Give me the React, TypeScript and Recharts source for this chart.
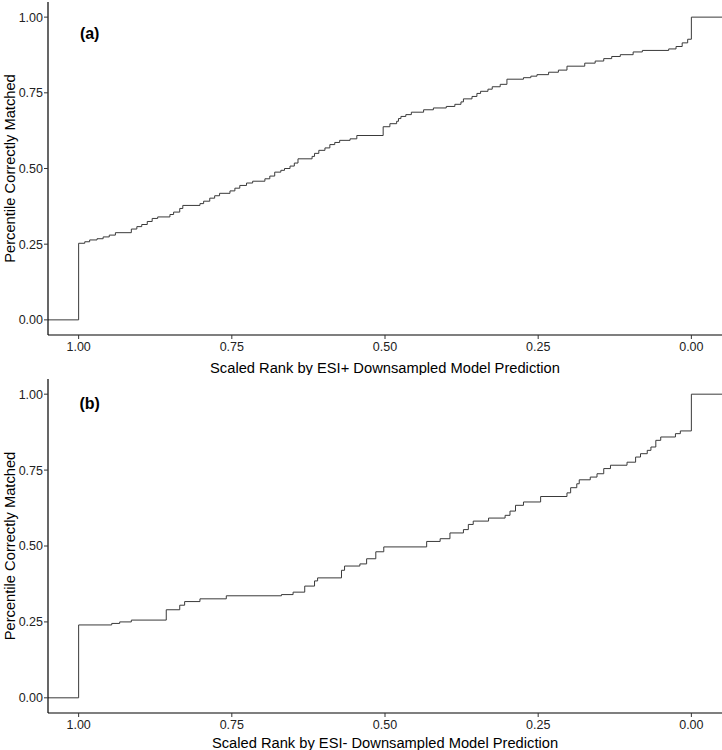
import React from 'react';
import { LineChart, Line, XAxis, YAxis, ReferenceDot } from 'recharts';

// Panel (a): ESI+ — step positions (scaled rank) and new cumulative level
const rankA = [1.05, 1.0, 0.99, 0.982, 0.97, 0.96, 0.95, 0.94, 0.914, 0.905, 0.897, 0.888, 0.88, 0.871, 0.851, 0.845, 0.835, 0.83, 0.802, 0.796, 0.786, 0.778, 0.77, 0.753, 0.745, 0.737, 0.726, 0.716, 0.696, 0.688, 0.68, 0.67, 0.664, 0.655, 0.648, 0.642, 0.619, 0.615, 0.608, 0.598, 0.59, 0.582, 0.574, 0.557, 0.546, 0.503, 0.492, 0.481, 0.478, 0.474, 0.466, 0.457, 0.437, 0.421, 0.4, 0.386, 0.376, 0.372, 0.358, 0.35, 0.344, 0.332, 0.325, 0.312, 0.301, 0.274, 0.262, 0.252, 0.233, 0.217, 0.203, 0.174, 0.157, 0.143, 0.13, 0.116, 0.095, 0.08, 0.037, 0.025, 0.015, 0.006, 0.0, -0.05];
const pctA = [0.0, 0.253, 0.258, 0.264, 0.268, 0.274, 0.28, 0.288, 0.3, 0.308, 0.315, 0.325, 0.335, 0.34, 0.348, 0.356, 0.368, 0.378, 0.384, 0.392, 0.402, 0.41, 0.418, 0.426, 0.435, 0.444, 0.452, 0.458, 0.466, 0.475, 0.488, 0.494, 0.5, 0.508, 0.518, 0.532, 0.54, 0.55, 0.56, 0.568, 0.579, 0.586, 0.593, 0.598, 0.609, 0.638, 0.648, 0.656, 0.665, 0.672, 0.678, 0.686, 0.694, 0.7, 0.705, 0.712, 0.72, 0.73, 0.738, 0.748, 0.755, 0.762, 0.77, 0.778, 0.795, 0.8, 0.805, 0.81, 0.818, 0.825, 0.838, 0.848, 0.855, 0.863, 0.87, 0.876, 0.885, 0.89, 0.895, 0.903, 0.915, 0.927, 1.0, 1.0];

// Panel (b): ESI- — step positions (scaled rank) and new cumulative level
const rankB = [1.05, 1.0, 0.946, 0.933, 0.914, 0.857, 0.835, 0.827, 0.802, 0.759, 0.669, 0.65, 0.631, 0.615, 0.61, 0.571, 0.566, 0.541, 0.53, 0.515, 0.502, 0.432, 0.41, 0.394, 0.372, 0.364, 0.356, 0.331, 0.304, 0.296, 0.287, 0.274, 0.246, 0.203, 0.197, 0.187, 0.183, 0.165, 0.154, 0.143, 0.132, 0.105, 0.091, 0.083, 0.072, 0.066, 0.058, 0.05, 0.026, 0.018, 0.0, -0.05];
const pctB = [0.0, 0.24, 0.245, 0.25, 0.256, 0.29, 0.305, 0.317, 0.326, 0.336, 0.34, 0.348, 0.368, 0.385, 0.395, 0.42, 0.434, 0.441, 0.458, 0.481, 0.497, 0.515, 0.524, 0.543, 0.554, 0.571, 0.582, 0.592, 0.601, 0.615, 0.634, 0.645, 0.663, 0.675, 0.692, 0.705, 0.718, 0.727, 0.738, 0.755, 0.766, 0.776, 0.793, 0.804, 0.815, 0.826, 0.848, 0.859, 0.87, 0.879, 1.0, 1.0];

const xTicks = [1, 0.75, 0.5, 0.25, 0];
const yTicks = [0, 0.25, 0.5, 0.75, 1];
const yTitle = 'Percentile Correctly Matched';
const xTitleA = 'Scaled Rank by ESI+ Downsampled Model Prediction';
const xTitleB = 'Scaled Rank by ESI- Downsampled Model Prediction';

const FONT = '"Liberation Sans", Arial, Helvetica, sans-serif';

type PanelProps = {
  xs: number[];
  ys: number[];
  xTitle: string;
  tag: string;
  tagX: number;
  tagY: number;
  marginTop: number;
  xAxisHeight: number;
};

function Panel({ xs, ys, xTitle, tag, tagX, tagY, marginTop, xAxisHeight }: PanelProps) {
  const data = xs.map((x, i) => ({ x, y: ys[i] }));
  return (
    <LineChart width={722} height={375} data={data} margin={{ top: marginTop, right: 0, bottom: 0, left: 0 }}>
      <XAxis
        dataKey="x"
        type="number"
        domain={[-0.05, 1.05]}
        reversed
        allowDataOverflow
        ticks={xTicks}
        interval={0}
        tickFormatter={(v: number) => v.toFixed(2)}
        height={xAxisHeight}
        tickSize={4}
        tickMargin={3}
        axisLine={{ stroke: '#000', strokeWidth: 1.2 }}
        tickLine={{ stroke: '#333' }}
        tick={{ fontSize: 12.5, fill: '#222', fontFamily: FONT }}
        label={{ value: xTitle, position: 'insideBottom', offset: 2, style: { fontSize: 14.7, fill: '#000', fontFamily: FONT } }}
      />
      <YAxis
        type="number"
        domain={[-0.05, 1.05]}
        allowDataOverflow
        ticks={yTicks}
        interval={0}
        tickFormatter={(v: number) => v.toFixed(2)}
        width={48}
        tickSize={4}
        tickMargin={1}
        axisLine={{ stroke: '#000', strokeWidth: 1.2 }}
        tickLine={{ stroke: '#333' }}
        tick={{ fontSize: 12.5, fill: '#222', fontFamily: FONT }}
        label={{ value: yTitle, angle: -90, position: 'insideLeft', offset: 10, style: { textAnchor: 'middle', fontSize: 14.7, fill: '#000', fontFamily: FONT } }}
      />
      <Line
        dataKey="y"
        type="stepAfter"
        stroke="#3a3a3a"
        strokeWidth={1}
        dot={false}
        activeDot={false}
        isAnimationActive={false}
      />
      <ReferenceDot
        x={tagX}
        y={tagY}
        r={0}
        fill="none"
        stroke="none"
        label={{ value: tag, position: 'center', style: { fontSize: 16, fontWeight: 900, fill: '#000', fontFamily: FONT } }}
      />
    </LineChart>
  );
}

export default function App() {
  return (
    <div style={{ position: 'absolute', left: 0, top: 0, width: 722, height: 750, background: '#fff' }}>
      <Panel xs={rankA} ys={pctA} xTitle={xTitleA} tag="(a)" tagX={0.982} tagY={0.947} marginTop={2} xAxisHeight={40} />
      <Panel xs={rankB} ys={pctB} xTitle={xTitleB} tag="(b)" tagX={0.982} tagY={0.97} marginTop={4} xAxisHeight={37} />
    </div>
  );
}
